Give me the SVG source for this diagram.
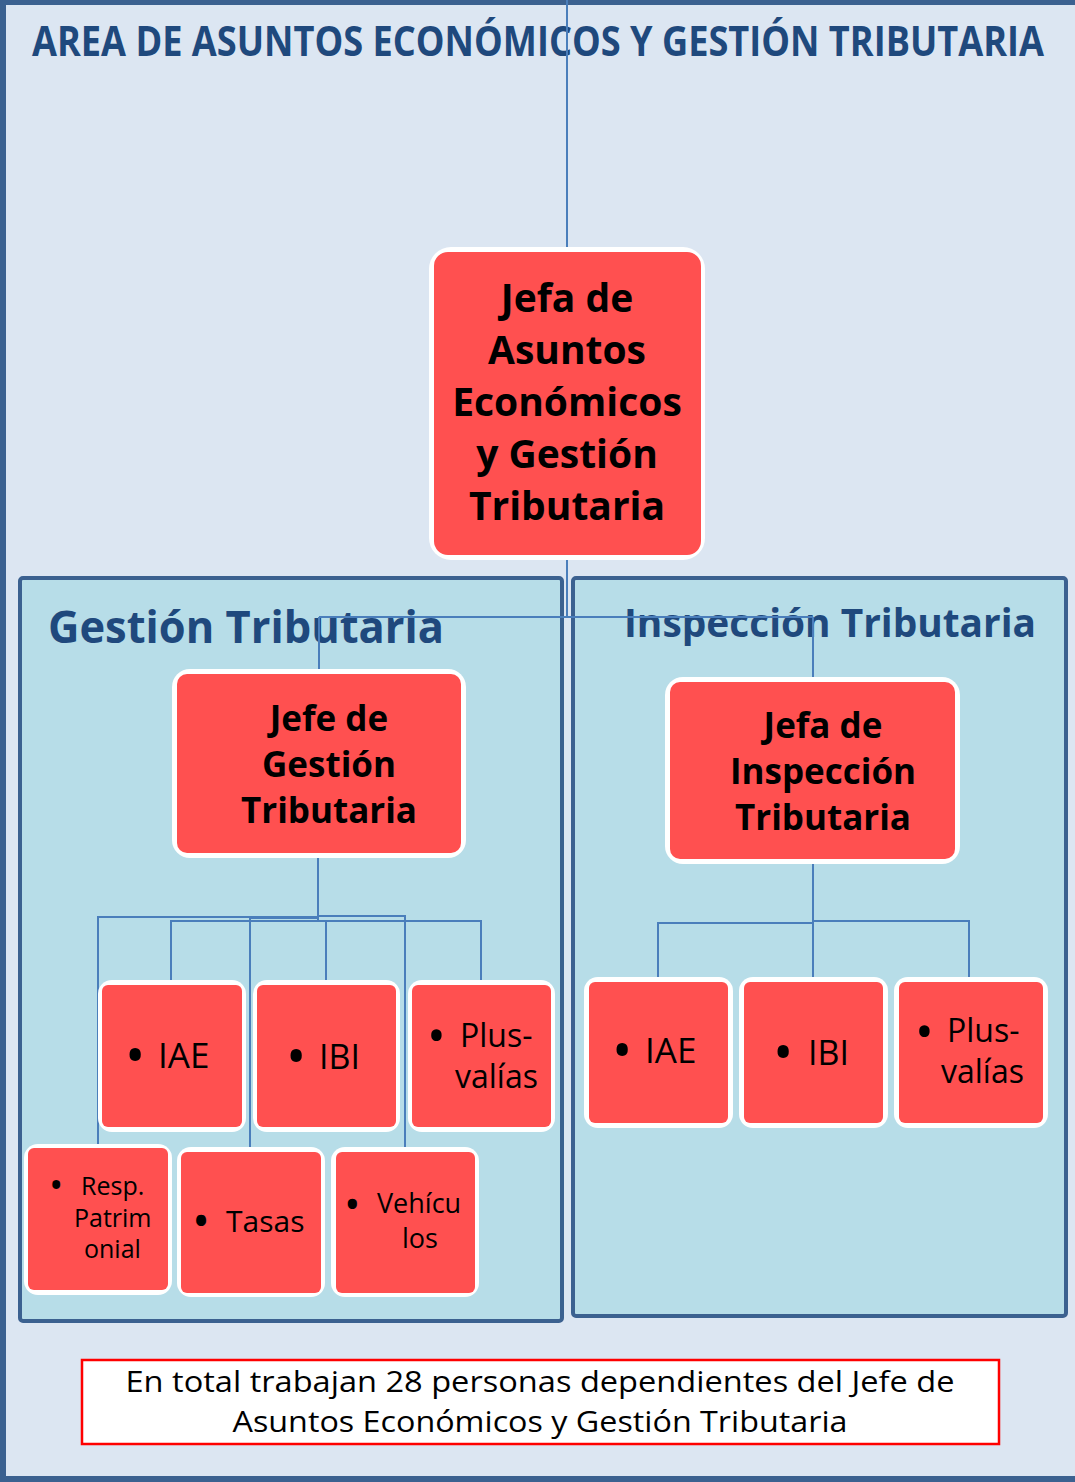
<svg xmlns="http://www.w3.org/2000/svg" width="1075" height="1482" viewBox="0 0 1075 1482">
<style>
.bg{fill:#dce6f2;stroke:#3b6190;stroke-width:6}
.panel{fill:#b7dde8;stroke:#3b6190;stroke-width:4}
.ttl{font-family:"Open Sans","Liberation Sans",sans-serif;font-weight:bold;fill:#1f497d}
.wb{fill:#ffffff}
.rb{fill:#ff5050}
.bt{font-family:"Open Sans","Liberation Sans",sans-serif;font-weight:bold;fill:#000000;text-anchor:middle}
.t{font-family:"Open Sans","Liberation Sans",sans-serif;fill:#000000}
.con{fill:none;stroke:#4a7ebb;stroke-width:2}
</style>
<rect class="bg" x="3" y="2" width="1082" height="1477"/>
<text class="ttl" x="32" y="56" font-size="42" textLength="1012" lengthAdjust="spacingAndGlyphs">AREA DE ASUNTOS ECONÓMICOS Y GESTIÓN TRIBUTARIA</text>
<g id="panel-gestion">
<rect class="panel" x="20" y="578" width="542" height="743" rx="3"/>
<text class="ttl" x="48" y="643" font-size="44" textLength="396" lengthAdjust="spacingAndGlyphs">Gestión Tributaria</text>
</g>
<g id="panel-inspeccion">
<rect class="panel" x="573" y="578" width="493" height="738" rx="3"/>
<text class="ttl" x="624" y="637" font-size="39" textLength="412" lengthAdjust="spacingAndGlyphs">Inspección Tributaria</text>
</g>
<g id="connectors">
<path class="con" d="M567 0V252M567 556V617M319 617H813M319 617V672M813 617V680"/>
<path class="con" d="M318 853V921M318 917H98V1148M171 985V921H481V985M326 921V985M318 918H250V1152M318 916H405V1152"/>
<path class="con" d="M813 859V982M813 923H658V982M813 921H969V982"/>
</g>
<g id="node-jefa-asuntos">
<rect class="wb" x="429" y="247" width="276" height="313" rx="22"/>
<rect class="rb" x="434" y="252" width="267" height="303" rx="14"/>
<text class="bt" x="567" y="312" font-size="39">Jefa de</text>
<text class="bt" x="567" y="364" font-size="39">Asuntos</text>
<text class="bt" x="567" y="416" font-size="39">Económicos</text>
<text class="bt" x="567" y="468" font-size="39">y Gestión</text>
<text class="bt" x="567" y="520" font-size="39">Tributaria</text>
</g>
<g id="node-jefe-gestion">
<rect class="wb" x="172" y="669" width="294" height="189" rx="18"/>
<rect class="rb" x="177" y="674" width="284" height="179" rx="10"/>
<text class="bt" x="329" y="731" font-size="35">Jefe de</text>
<text class="bt" x="329" y="777" font-size="35">Gestión</text>
<text class="bt" x="329" y="823" font-size="35">Tributaria</text>
</g>
<g id="node-jefa-inspeccion">
<rect class="wb" x="665" y="677" width="295" height="187" rx="18"/>
<rect class="rb" x="670" y="682" width="285" height="177" rx="10"/>
<text class="bt" x="823" y="738" font-size="35">Jefa de</text>
<text class="bt" x="823" y="784" font-size="35">Inspección</text>
<text class="bt" x="823" y="830" font-size="35">Tributaria</text>
</g>
<g id="node-g-iae">
<rect class="wb" x="98" y="980" width="148" height="152" rx="14"/>
<rect class="rb" x="102" y="985" width="140" height="142" rx="6"/>
<text class="t" x="125" y="1075" font-size="54">•</text>
<text class="t" x="158" y="1068" font-size="35">IAE</text>
</g>
<g id="node-g-ibi">
<rect class="wb" x="253" y="980" width="147" height="152" rx="14"/>
<rect class="rb" x="257" y="985" width="139" height="142" rx="6"/>
<text class="t" x="286" y="1076" font-size="54">•</text>
<text class="t" x="319" y="1069" font-size="34">IBI</text>
</g>
<g id="node-g-plus">
<rect class="wb" x="408" y="980" width="147" height="152" rx="14"/>
<rect class="rb" x="412" y="985" width="139" height="142" rx="6"/>
<text class="t" x="427" y="1053" font-size="50">•</text>
<text class="t" x="460" y="1047" font-size="32">Plus-</text>
<text class="t" x="455" y="1088" font-size="32">valías</text>
</g>
<g id="node-g-resp">
<rect class="wb" x="24" y="1144" width="148" height="151" rx="14"/>
<rect class="rb" x="28" y="1148" width="140" height="142" rx="6"/>
<text class="t" x="49" y="1199" font-size="38">•</text>
<text class="t" x="81" y="1195" font-size="25">Resp.</text>
<text class="t" x="74" y="1227" font-size="25">Patrim</text>
<text class="t" x="84" y="1258" font-size="25">onial</text>
</g>
<g id="node-g-tasas">
<rect class="wb" x="177" y="1147" width="148" height="150" rx="14"/>
<rect class="rb" x="181" y="1152" width="140" height="141" rx="6"/>
<text class="t" x="192" y="1238" font-size="48">•</text>
<text class="t" x="226" y="1232" font-size="30">Tasas</text>
</g>
<g id="node-g-vehiculos">
<rect class="wb" x="331" y="1147" width="148" height="150" rx="14"/>
<rect class="rb" x="336" y="1152" width="139" height="141" rx="6"/>
<text class="t" x="344" y="1220" font-size="44">•</text>
<text class="t" x="377" y="1213" font-size="27">Vehícu</text>
<text class="t" x="402" y="1248" font-size="27">los</text>
</g>
<g id="node-i-iae">
<rect class="wb" x="584" y="977" width="149" height="151" rx="14"/>
<rect class="rb" x="589" y="982" width="139" height="141" rx="6"/>
<text class="t" x="612" y="1070" font-size="54">•</text>
<text class="t" x="645" y="1063" font-size="35">IAE</text>
</g>
<g id="node-i-ibi">
<rect class="wb" x="739" y="977" width="149" height="151" rx="14"/>
<rect class="rb" x="744" y="982" width="139" height="141" rx="6"/>
<text class="t" x="773" y="1072" font-size="54">•</text>
<text class="t" x="808" y="1065" font-size="34">IBI</text>
</g>
<g id="node-i-plus">
<rect class="wb" x="894" y="977" width="154" height="151" rx="14"/>
<rect class="rb" x="899" y="982" width="144" height="141" rx="6"/>
<text class="t" x="915" y="1049" font-size="50">•</text>
<text class="t" x="947" y="1042" font-size="32">Plus-</text>
<text class="t" x="941" y="1083" font-size="32">valías</text>
</g>
<g id="note">
<rect x="82" y="1360" width="917" height="84" fill="#ffffff" stroke="#ff0000" stroke-width="2.5"/>
<text class="t" x="540" y="1392" font-size="29" text-anchor="middle" textLength="829" lengthAdjust="spacingAndGlyphs">En total trabajan 28 personas dependientes del Jefe de</text>
<text class="t" x="540" y="1432" font-size="29" text-anchor="middle" textLength="615" lengthAdjust="spacingAndGlyphs">Asuntos Económicos y Gestión Tributaria</text>
</g>
</svg>
